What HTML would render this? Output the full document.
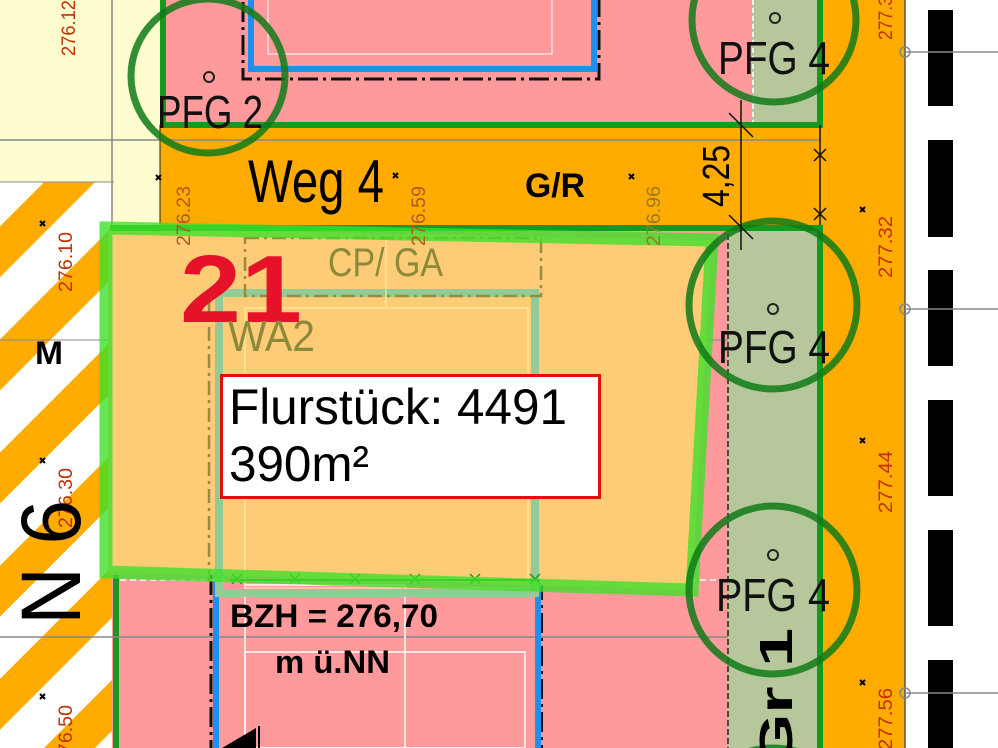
<!DOCTYPE html>
<html><head><meta charset="utf-8"><style>html,body{margin:0;padding:0;background:#fff;width:998px;height:748px;overflow:hidden}svg{display:block}text{font-family:"Liberation Sans",sans-serif}</style></head><body>
<svg width="998" height="748" viewBox="0 0 998 748" xmlns="http://www.w3.org/2000/svg">
<defs>
<pattern id="st" patternUnits="userSpaceOnUse" width="80" height="80" patternTransform="rotate(45)">
<rect width="80" height="80" fill="#fff"/><rect width="36" height="80" fill="#ffab00"/>
</pattern>
<clipPath id="frame"><rect width="998" height="748"/></clipPath>
</defs>
<g clip-path="url(#frame)">
<rect width="998" height="748" fill="#fff"/>
<rect x="0" y="0" width="165" height="230" fill="#fdfdcf"/>
<rect x="0" y="182" width="112" height="566" fill="url(#st)"/>
<line x1="112" y1="0" x2="112" y2="230" stroke="#888" stroke-width="1.5"/>
<line x1="0" y1="140" x2="165" y2="140" stroke="#888" stroke-width="1.5"/>
<line x1="0" y1="182" x2="114" y2="182" stroke="#888" stroke-width="1"/>
<rect x="160" y="0" width="600" height="126" fill="#fe9a9c"/>
<rect x="752" y="0" width="70" height="126" fill="#b6c89b"/>
<line x1="753" y1="0" x2="753" y2="122" stroke="#fff" stroke-width="1.5" stroke-dasharray="5,3"/>
<rect x="160" y="125" width="665" height="102" fill="#ffab00"/>
<rect x="820" y="0" width="85" height="748" fill="#ffab00"/>
<line x1="905" y1="0" x2="905" y2="748" stroke="#555" stroke-width="1.5"/>
<line x1="160" y1="140" x2="820" y2="140" stroke="#888" stroke-width="1.5"/>
<rect x="243" y="-10" width="356" height="89" fill="none" stroke="#111" stroke-width="3" stroke-dasharray="20,5,3,5"/>
<rect x="251" y="-10" width="343" height="79" fill="none" stroke="#1e90f0" stroke-width="6"/>
<rect x="268" y="-10" width="284" height="64" fill="none" stroke="#fff" stroke-width="1"/>
<line x1="163" y1="0" x2="163" y2="127" stroke="#159a1f" stroke-width="6"/>
<line x1="160" y1="125" x2="822" y2="125" stroke="#159a1f" stroke-width="6"/>
<line x1="820" y1="0" x2="820" y2="128" stroke="#159a1f" stroke-width="6"/>
<line x1="160" y1="125" x2="160" y2="225" stroke="#222" stroke-width="1"/>
<rect x="112" y="228" width="620" height="520" fill="#fe9a9c"/>
<rect x="728" y="225" width="92" height="523" fill="#b6c89b"/>
<line x1="728" y1="225" x2="728" y2="748" stroke="#222" stroke-width="1.5" stroke-dasharray="6,3"/>
<line x1="820" y1="225" x2="820" y2="748" stroke="#159a1f" stroke-width="6"/>
<line x1="116" y1="575" x2="116" y2="748" stroke="#159a1f" stroke-width="6"/>
<line x1="0" y1="637" x2="728" y2="637" stroke="#888" stroke-width="1.5"/>
<line x1="0" y1="340" x2="728" y2="340" stroke="#888" stroke-width="1"/>
<line x1="211" y1="575" x2="211" y2="748" stroke="#111" stroke-width="3" stroke-dasharray="20,5,3,5"/>
<line x1="216" y1="580" x2="216" y2="748" stroke="#1e90f0" stroke-width="6"/>
<line x1="538" y1="580" x2="538" y2="748" stroke="#1e90f0" stroke-width="6"/>
<line x1="542" y1="580" x2="542" y2="748" stroke="#111" stroke-width="2" stroke-dasharray="20,5,3,5"/>
<rect x="245" y="585" width="160" height="163" fill="none" stroke="#fff" stroke-width="1.5"/>
<rect x="245" y="652" width="280" height="96" fill="none" stroke="#fff" stroke-width="1.5"/>
<line x1="120" y1="580" x2="720" y2="580" stroke="#fff" stroke-width="1.5" stroke-dasharray="6,4"/>
<polygon points="108,228 712,240 692,590 108,572" fill="#fecb77"/>
<line x1="110" y1="228" x2="820" y2="228" stroke="#159a1f" stroke-width="6"/>
<rect x="219" y="293" width="316" height="300" fill="none" stroke="#93cb97" stroke-width="8"/>
<rect x="245" y="308" width="283" height="280" fill="none" stroke="#fff6a8" stroke-width="1"/>
<rect x="245" y="238" width="296" height="58" fill="none" stroke="#9a8a3a" stroke-width="2.5" stroke-dasharray="14,5,3,5"/>
<line x1="386" y1="240" x2="386" y2="307" stroke="#fff6a8" stroke-width="1"/>
<line x1="209" y1="300" x2="209" y2="580" stroke="#9a8a3a" stroke-width="2.5" stroke-dasharray="14,5,3,5"/>
<line x1="230" y1="580" x2="540" y2="580" stroke="#159a1f" stroke-width="2"/>
<g stroke="#159a1f" stroke-width="1.5">
<path d="M232,574l10,10M242,574l-10,10M290,574l10,10M300,574l-10,10M350,574l10,10M360,574l-10,10M410,574l10,10M420,574l-10,10M470,574l10,10M480,574l-10,10M530,574l10,10M540,574l-10,10"/>
</g>
<polygon points="106,228 712,240 692,590 106,572" fill="none" stroke="#3fe02a" stroke-opacity="0.8" stroke-width="13"/>
<g fill="none" stroke="#0f7a18" stroke-width="7" stroke-opacity="0.85">
<circle cx="208" cy="76" r="77"/>
<circle cx="774" cy="20" r="82"/>
<circle cx="773" cy="305" r="84"/>
<circle cx="773" cy="590" r="84"/>
<circle cx="773" cy="832" r="84"/>
</g>
<g fill="none" stroke="#222" stroke-width="2">
<circle cx="209" cy="77" r="5"/><circle cx="775" cy="18" r="5"/><circle cx="773" cy="309" r="5"/><circle cx="773" cy="555" r="5"/>
</g>
<g stroke="#111" stroke-width="1.5">
<line x1="741" y1="100" x2="741" y2="250"/>
<line x1="729" y1="113" x2="753" y2="137"/>
<line x1="729" y1="215" x2="753" y2="239"/>
<line x1="820" y1="125" x2="820" y2="225"/>
<path d="M814,149l12,12M826,149l-12,12M814,208l12,12M826,208l-12,12"/>
</g>
<g fill="#000">
<rect x="928" y="10" width="25" height="96"/><rect x="928" y="140" width="25" height="97"/><rect x="928" y="270" width="25" height="96"/><rect x="928" y="400" width="25" height="96"/><rect x="928" y="530" width="25" height="96"/><rect x="928" y="660" width="25" height="88"/>
</g>
<g stroke="#888" stroke-width="1.5" fill="none">
<line x1="905" y1="52" x2="998" y2="52"/><circle cx="905" cy="52" r="5"/>
<line x1="905" y1="309" x2="998" y2="309"/><circle cx="905" cy="309" r="5"/>
<line x1="905" y1="693" x2="998" y2="693"/><circle cx="905" cy="693" r="5"/>
</g>
<g stroke="#000" stroke-width="2">
<path d="M156,175l5,5M161,175l-5,5M393,173l5,5M398,173l-5,5M629,174l5,5M634,174l-5,5M860,207l5,5M865,207l-5,5M40,221l5,5M45,221l-5,5M40,458l5,5M45,458l-5,5M40,694l5,5M45,694l-5,5M860,438l5,5M865,438l-5,5M860,680l5,5M865,680l-5,5"/>
</g>
<g font-size="19" fill="#c23000">
<text transform="translate(75,56) rotate(-90)" textLength="56" lengthAdjust="spacingAndGlyphs">276.12</text>
<text transform="translate(72,292) rotate(-90)" textLength="60" lengthAdjust="spacingAndGlyphs">276.10</text>
<text transform="translate(72,528) rotate(-90)" textLength="60" lengthAdjust="spacingAndGlyphs">276.30</text>
<text transform="translate(72,765) rotate(-90)" textLength="60" lengthAdjust="spacingAndGlyphs">276.50</text>
<text transform="translate(190,246) rotate(-90)" fill="#b05a20" textLength="60" lengthAdjust="spacingAndGlyphs">276.23</text>
<text transform="translate(425,246) rotate(-90)" fill="#b05a20" textLength="60" lengthAdjust="spacingAndGlyphs">276.59</text>
<text transform="translate(660,246) rotate(-90)" fill="#9a7a20" textLength="60" lengthAdjust="spacingAndGlyphs">276.96</text>
<text transform="translate(892,40) rotate(-90)" textLength="44" lengthAdjust="spacingAndGlyphs">277.3</text>
<text transform="translate(892,278) rotate(-90)" textLength="62" lengthAdjust="spacingAndGlyphs">277.32</text>
<text transform="translate(892,513) rotate(-90)" textLength="62" lengthAdjust="spacingAndGlyphs">277.44</text>
<text transform="translate(892,750) rotate(-90)" textLength="62" lengthAdjust="spacingAndGlyphs">277.56</text>
</g>
<g fill="#111" font-size="46">
<text x="157" y="128" textLength="106" lengthAdjust="spacingAndGlyphs">PFG 2</text>
<text x="718" y="74" textLength="112" lengthAdjust="spacingAndGlyphs">PFG 4</text>
<text x="718" y="363" textLength="112" lengthAdjust="spacingAndGlyphs">PFG 4</text>
<text x="716" y="611" textLength="114" lengthAdjust="spacingAndGlyphs">PFG 4</text>
</g>
<text x="248" y="202" font-size="60" fill="#000" textLength="136" lengthAdjust="spacingAndGlyphs">Weg 4</text>
<text x="525" y="197" font-size="34" font-weight="bold" fill="#000" textLength="60" lengthAdjust="spacingAndGlyphs">G/R</text>
<text transform="translate(729,207) rotate(-90)" font-size="38" fill="#000" textLength="62" lengthAdjust="spacingAndGlyphs">4,25</text>
<text x="35" y="364" font-size="32" font-weight="bold" fill="#000" textLength="28" lengthAdjust="spacingAndGlyphs">M</text>
<text transform="translate(80,625) rotate(-90)" font-size="84" fill="#000" textLength="125" lengthAdjust="spacingAndGlyphs">N 6</text>
<text transform="translate(792,768) rotate(-90)" font-size="46" font-weight="bold" fill="#000" textLength="140" lengthAdjust="spacingAndGlyphs">Gr 1</text>
<text x="180" y="322" font-size="96" font-weight="bold" fill="#e5122a" textLength="122" lengthAdjust="spacingAndGlyphs">21</text>
<text x="328" y="276" font-size="40" fill="#8c8a3a" textLength="115" lengthAdjust="spacingAndGlyphs">CP/ GA</text>
<text x="228" y="351" font-size="44" fill="#8c8a3a" textLength="87" lengthAdjust="spacingAndGlyphs">WA2</text>
<text x="230" y="627" font-size="32" font-weight="bold" fill="#000" textLength="208" lengthAdjust="spacingAndGlyphs">BZH  =  276,70</text>
<text x="275" y="673" font-size="32" font-weight="bold" fill="#000" textLength="115" lengthAdjust="spacingAndGlyphs">m  ü.NN</text>
<polygon points="222,748 256,728 256,748" fill="#000"/>
<line x1="259" y1="726" x2="259" y2="748" stroke="#000" stroke-width="2"/>
<rect x="221.5" y="375.5" width="378" height="122" fill="#fff" stroke="#e0100f" stroke-width="3"/>
<text x="229" y="424" font-size="50" fill="#000" textLength="338" lengthAdjust="spacingAndGlyphs">Flurstück: 4491</text>
<text x="229" y="481" font-size="50" fill="#000" textLength="140" lengthAdjust="spacingAndGlyphs">390m²</text>
</g>
</svg>
</body></html>
